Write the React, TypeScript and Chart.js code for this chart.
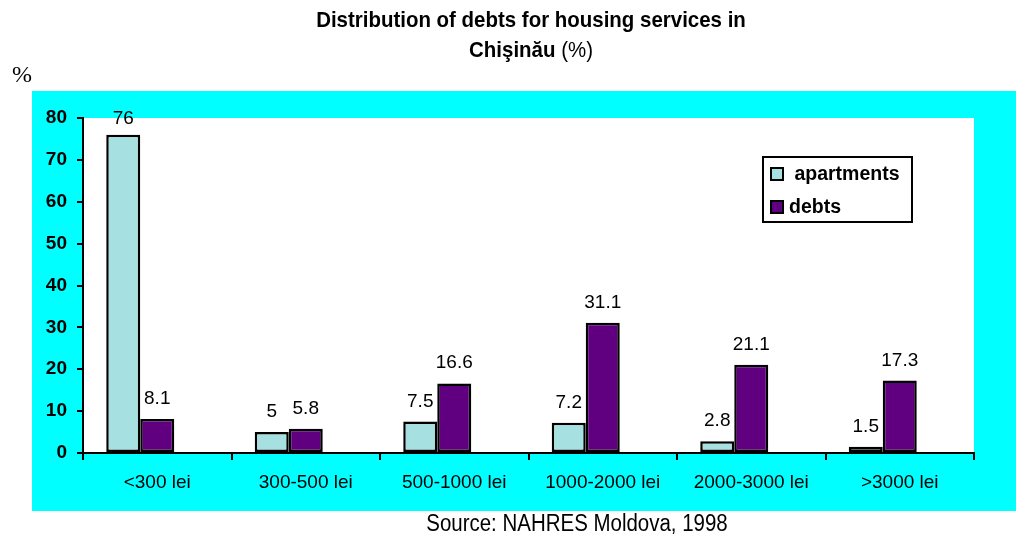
import React, { useEffect, useRef } from "react";
import { Chart, registerables } from "chart.js";

Chart.register(...registerables);

const categories = ["<300 lei", "300-500 lei", "500-1000 lei", "1000-2000 lei", "2000-3000 lei", ">3000 lei"];
const apartments = [76, 5, 7.5, 7.2, 2.8, 1.5];
const debts = [8.1, 5.8, 16.6, 31.1, 21.1, 17.3];
const seriesNames = [" apartments", "debts"];
const seriesColors = ["#A6E0E0", "#600080"];
const yMin = 0;
const yMax = 80;
const yStep = 10;
const titleMain = "Distribution of debts for housing services in";
const titleCity = "Chişinău";
const titleUnit = " (%)";
const axisUnit = "%";
const sourceText = "Source: NAHRES Moldova, 1998";

const W = 1016;
const H = 537;
const SANS = '"Liberation Sans", Arial, sans-serif';
const NARROW = '"Liberation Sans Narrow", "Arial Narrow", "Liberation Sans", sans-serif';

const backgroundPlugin = {
  id: "bgPanels",
  beforeDraw(chart: any) {
    const { ctx, chartArea } = chart;
    ctx.save();
    ctx.fillStyle = "#ffffff";
    ctx.fillRect(0, 0, W, H);
    ctx.fillStyle = "#00FFFF";
    ctx.fillRect(32, 91, W - 32, 420);
    ctx.fillStyle = "#ffffff";
    ctx.fillRect(chartArea.left, chartArea.top, chartArea.right - chartArea.left, chartArea.bottom - chartArea.top);
    ctx.restore();
  },
};

const valueLabelPlugin = {
  id: "valueLabels",
  afterDatasetsDraw(chart: any) {
    const { ctx } = chart;
    ctx.save();
    ctx.font = `19px ${SANS}`;
    ctx.fillStyle = "#000";
    ctx.textAlign = "center";
    ctx.textBaseline = "alphabetic";
    chart.data.datasets.forEach((ds: any, di: number) => {
      if (!ds.label) return;
      const meta = chart.getDatasetMeta(di);
      meta.data.forEach((bar: any, i: number) => {
        const v = ds.data[i];
        if (v == null) return;
        const y = Math.max(bar.y - 15, chart.chartArea.top + 6);
        ctx.fillText(String(v), bar.x, y);
      });
    });
    ctx.restore();
  },
};

const boxLegendPlugin = {
  id: "boxLegend",
  afterDraw(chart: any) {
    const { ctx } = chart;
    const x0 = 763, y0 = 157, w = 149, h = 65;
    ctx.save();
    ctx.fillStyle = "#fff";
    ctx.fillRect(x0, y0, w, h);
    ctx.strokeStyle = "#000";
    ctx.lineWidth = 2;
    ctx.strokeRect(x0, y0, w, h);
    ctx.font = `bold 19.5px ${SANS}`;
    ctx.textBaseline = "middle";
    ctx.textAlign = "left";
    const items = chart.data.datasets.filter((d: any) => d.label);
    items.forEach((ds: any, i: number) => {
      const cy = y0 + 17 + i * 33;
      ctx.fillStyle = ds.backgroundColor;
      ctx.fillRect(771, cy - 6, 12, 12);
      ctx.lineWidth = 2;
      ctx.strokeRect(771, cy - 6, 12, 12);
      ctx.fillStyle = "#000";
      ctx.fillText(ds.label, 789, cy + 1);
    });
    ctx.restore();
  },
};

function App() {
  const canvasRef = useRef<HTMLCanvasElement | null>(null);

  useEffect(() => {
    if (!canvasRef.current) return;
    const barStyle = {
      borderColor: "#000",
      borderWidth: 2.5,
      borderSkipped: false,
      barPercentage: 1,
      categoryPercentage: 0.687,
    };
    const chart = new Chart(canvasRef.current, {
      type: "bar",
      data: {
        labels: categories,
        datasets: [
          { label: seriesNames[0], data: apartments, backgroundColor: seriesColors[0], ...barStyle },
          { label: seriesNames[1], data: debts, backgroundColor: seriesColors[1], ...barStyle },
          {
            label: "",
            data: categories.map(() => null),
            backgroundColor: "rgba(0,0,0,0)",
            borderWidth: 0,
            barPercentage: 1,
            categoryPercentage: 0.687,
          },
        ],
      },
      options: {
        responsive: false,
        animation: false,
        devicePixelRatio: 1,
        layout: { padding: { top: 118, right: 42, left: 0, bottom: 0 } },
        plugins: {
          legend: { display: false },
          title: { display: false },
          tooltip: { enabled: false },
        },
        scales: {
          x: {
            grid: {
              offset: true,
              drawOnChartArea: false,
              drawTicks: true,
              tickLength: 7,
              color: "#000",
              lineWidth: 2,
            },
            border: { color: "#000", width: 2 },
            ticks: {
              color: "#000",
              font: { family: SANS, size: 19 },
              padding: 11,
              maxRotation: 0,
              autoSkip: false,
            },
            afterFit: (s: any) => {
              s.height = 84;
            },
          },
          y: {
            min: yMin,
            max: yMax,
            grid: {
              drawOnChartArea: false,
              drawTicks: true,
              tickLength: 6,
              color: "#000",
              lineWidth: 2,
            },
            border: { color: "#000", width: 2 },
            ticks: {
              stepSize: yStep,
              color: "#000",
              font: { family: SANS, size: 19, weight: "bold" },
              padding: 10,
            },
            afterFit: (s: any) => {
              s.width = 83;
            },
          },
        },
      },
      plugins: [backgroundPlugin, valueLabelPlugin, boxLegendPlugin],
    } as any);
    return () => chart.destroy();
  }, []);

  return (
    <div style={{ position: "absolute", left: 0, top: 0, width: W, height: H, overflow: "hidden", background: "#fff" }}>
      <canvas ref={canvasRef} width={W} height={H} style={{ position: "absolute", left: 0, top: 0, width: W, height: H }} />
      <div
        style={{
          position: "absolute",
          left: 0,
          top: 5,
          width: 1062,
          textAlign: "center",
          fontFamily: NARROW,
          fontSize: 22,
          lineHeight: "30px",
          color: "#000",
          transform: "scaleX(0.93)",
          transformOrigin: "531px 0",
        }}
      >
        <div style={{ fontWeight: "bold" }}>{titleMain}</div>
        <div>
          <span style={{ fontWeight: "bold" }}>{titleCity}</span>
          <span>{titleUnit}</span>
        </div>
      </div>
      <div
        style={{
          position: "absolute",
          left: 12,
          top: 60,
          fontFamily: '"Liberation Serif", "Times New Roman", serif',
          fontSize: 24,
          lineHeight: "28px",
          color: "#000",
        }}
      >
        {axisUnit}
      </div>
      <div
        style={{
          position: "absolute",
          left: 0,
          top: 510,
          width: 1154,
          textAlign: "center",
          fontFamily: NARROW,
          fontSize: 23,
          lineHeight: "26px",
          color: "#000",
          transform: "scaleX(0.89)",
          transformOrigin: "577px 0",
        }}
      >
        {sourceText}
      </div>
    </div>
  );
}

export default App;
